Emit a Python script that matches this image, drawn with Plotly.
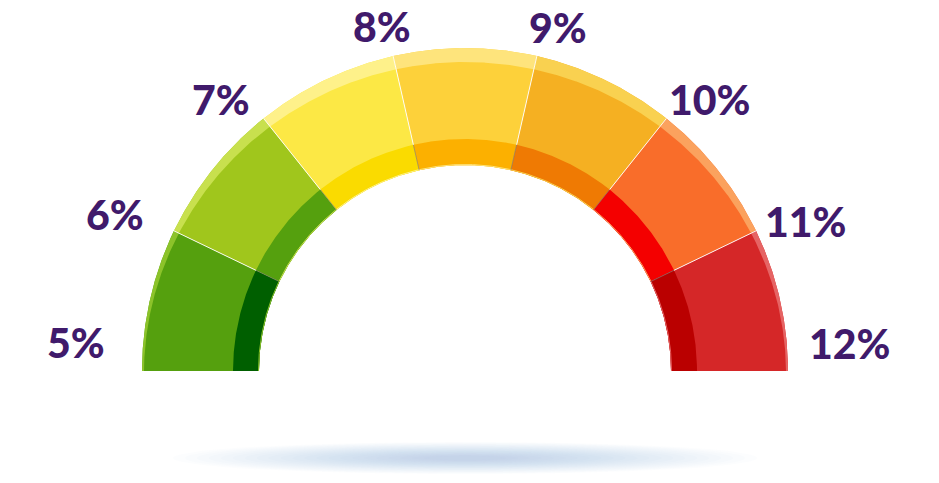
import numpy as np
import plotly.graph_objects as go

# ---- data ----
thresholds = [5, 6, 7, 8, 9, 10, 11, 12]
tick_labels = ["5%", "6%", "7%", "8%", "9%", "10%", "11%", "12%"]

# ---- styles ----
outer_colors = ["#55A00E", "#A0C61C", "#FCE845", "#FDD13A", "#F5B022", "#F96D2A", "#D52728"]
inner_colors = ["#005F00", "#55A00E", "#FADB00", "#FCB000", "#EF7A03", "#F40000", "#BA0000"]
rim_colors = ["#8CC32A", "#C8E04E", "#FEF18A", "#FEE47C", "#F9D150", "#FBA25E", "#E66464"]
label_color = "#401A6B"

R_OUT = 323
R_BAND = 232
R_IN = 206
label_radius = [390, 382, 363, 351, 353, 363, 371, 385]
label_angle_offset = [-3.7, 2.1, 3.7, 0.8, -2.4, -3.8, -2.5, 3.7]

vmin, vmax = thresholds[0], thresholds[-1]


def val_to_angle(v):
    return np.pi - (v - vmin) / (vmax - vmin) * np.pi


def annulus(a0, a1, r_in_fn, r_out_fn, n=120):
    th = np.linspace(a0, a1, n)
    ro = np.array([r_out_fn(t) for t in th])
    ri = np.array([r_in_fn(t) for t in th[::-1]])
    xs = np.concatenate([ro * np.cos(th), ri * np.cos(th[::-1])])
    ys = np.concatenate([ro * np.sin(th), ri * np.sin(th[::-1])])
    xs = np.append(xs, xs[0])
    ys = np.append(ys, ys[0])
    return xs, ys


def rim_inner(t):
    return R_OUT - (2 + 12 * np.sin(t) ** 1.5)


fig = go.Figure()

for i in range(len(thresholds) - 1):
    a0 = val_to_angle(thresholds[i])
    a1 = val_to_angle(thresholds[i + 1])
    x, y = annulus(a0, a1, lambda t: R_IN, lambda t: R_OUT)
    fig.add_trace(go.Scatter(x=x, y=y, fill="toself", fillcolor=outer_colors[i],
                             line=dict(width=0), mode="lines", hoverinfo="skip",
                             showlegend=False))
    x, y = annulus(a0, a1, lambda t: R_IN, lambda t: R_BAND)
    fig.add_trace(go.Scatter(x=x, y=y, fill="toself", fillcolor=inner_colors[i],
                             line=dict(width=0), mode="lines", hoverinfo="skip",
                             showlegend=False))
    x, y = annulus(a0, a1, rim_inner, lambda t: R_OUT)
    fig.add_trace(go.Scatter(x=x, y=y, fill="toself", fillcolor=rim_colors[i],
                             line=dict(width=0), mode="lines", hoverinfo="skip",
                             showlegend=False))
    th = np.linspace(a0, a1, 80)
    fig.add_trace(go.Scatter(x=(R_IN + 0.5) * np.cos(th), y=(R_IN + 0.5) * np.sin(th),
                             mode="lines", line=dict(color=rim_colors[i], width=1),
                             hoverinfo="skip", showlegend=False))

for v in thresholds[1:-1]:
    a = val_to_angle(v)
    fig.add_trace(go.Scatter(x=[R_BAND * np.cos(a), R_OUT * np.cos(a)],
                             y=[R_BAND * np.sin(a), R_OUT * np.sin(a)],
                             mode="lines", line=dict(color="rgba(255,255,255,0.9)", width=1),
                             hoverinfo="skip", showlegend=False))
    fig.add_trace(go.Scatter(x=[R_IN * np.cos(a), R_BAND * np.cos(a)],
                             y=[R_IN * np.sin(a), R_BAND * np.sin(a)],
                             mode="lines", line=dict(color="rgba(120,120,120,0.6)", width=1),
                             hoverinfo="skip", showlegend=False))

# soft shadow under the gauge
shapes = []
n_sh = 22
for k in range(n_sh):
    s = 1 - k / n_sh * 0.9
    rx, ry = 292 * s, 16 * s
    shapes.append(dict(type="circle", xref="x", yref="y", layer="below",
                       x0=-rx, x1=rx, y0=-87 - ry, y1=-87 + ry,
                       fillcolor="rgba(120,160,195,0.024)", line=dict(width=0)))

annotations = []
for lab, v, rr, off in zip(tick_labels, thresholds, label_radius, label_angle_offset):
    a = val_to_angle(v) + np.deg2rad(off)
    annotations.append(dict(x=rr * np.cos(a), y=rr * np.sin(a) + 3, xref="x", yref="y",
                            text=lab, showarrow=False, xanchor="center", yanchor="middle",
                            font=dict(family="Lato", size=41, color=label_color, weight=900)))

fig.update_layout(
    width=939, height=483,
    margin=dict(l=0, r=0, t=0, b=0),
    paper_bgcolor="white", plot_bgcolor="white",
    xaxis=dict(range=[-465, 474], visible=False, fixedrange=True),
    yaxis=dict(range=[-112, 371], visible=False, fixedrange=True),
    shapes=shapes,
    annotations=annotations,
    showlegend=False,
)

fig.write_html("out.html", config={"displayModeBar": False},
               post_script="document.body.style.margin='0';")
